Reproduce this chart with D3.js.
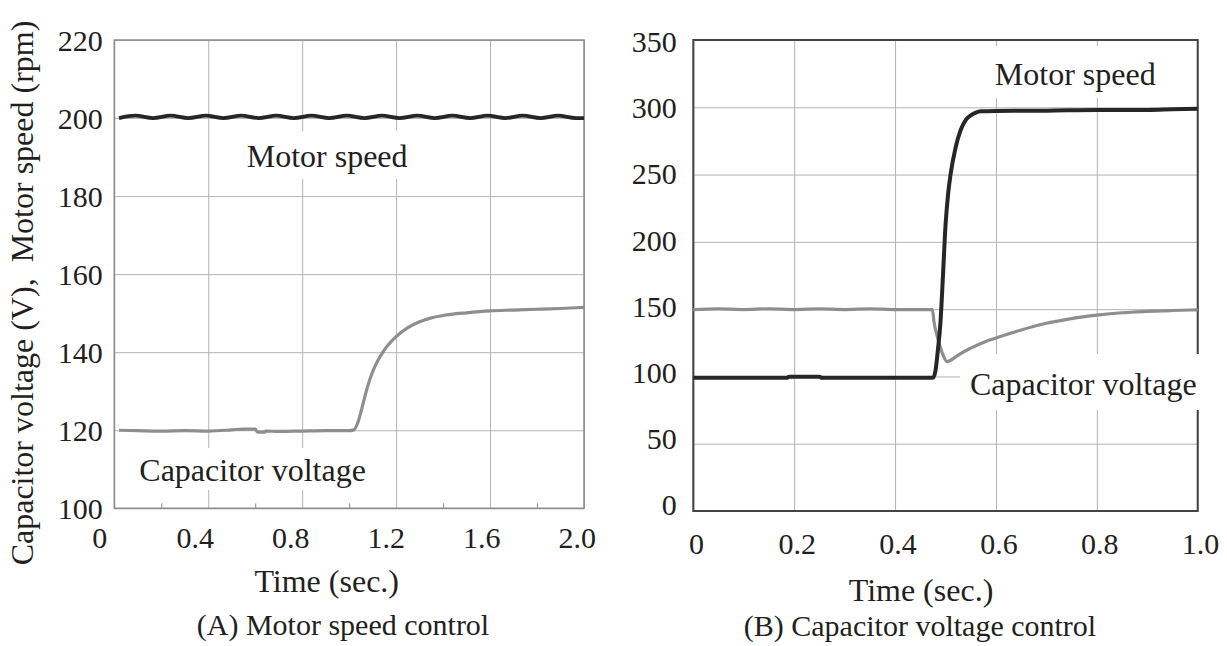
<!DOCTYPE html>
<html>
<head>
<meta charset="utf-8">
<script src="https://cdn.jsdelivr.net/npm/d3@7"></script>
<style>
  html, body { margin: 0; padding: 0; background: #fff; }
  svg { display: block; }
  svg text { font-family: "Liberation Serif", "Times New Roman", Times, "DejaVu Serif", serif; }
</style>
</head>
<body>
<svg id="chart" width="1227" height="646"></svg>
<script>
// ---------------- DATA ----------------
// Panel A: Motor speed control
const xTicksA = [0, 0.4, 0.8, 1.2, 1.6, 2.0];
const xTickLabelsA = ["0", "0.4", "0.8", "1.2", "1.6", "2.0"];
const xMinorA = [0.2, 0.6, 1.0, 1.4, 1.8];
const yTicksA = [100, 120, 140, 160, 180, 200, 220];
const yTickLabelsA = ["100", "120", "140", "160", "180", "200", "220"];

const tSpeedA = [0.02, 0.09, 0.165, 0.24, 0.315, 0.39, 0.465, 0.54, 0.615, 0.69, 0.765, 0.84, 0.915,
                 0.99, 1.065, 1.14, 1.215, 1.29, 1.365, 1.44, 1.515, 1.59, 1.665, 1.74, 1.815, 1.89, 1.965, 2.0];
const speedA  = [200.0, 200.6, 200.0, 200.6, 200.0, 200.6, 200.0, 200.6, 200.0, 200.6, 200.0, 200.6, 200.0,
                 200.6, 200.0, 200.6, 200.0, 200.6, 200.0, 200.6, 200.0, 200.6, 200.0, 200.6, 200.0, 200.6, 200.0, 200.0];

const tCapA = [0.02, 0.1, 0.2, 0.3, 0.4, 0.5, 0.55, 0.6, 0.61, 0.64, 0.645, 0.7, 0.8, 0.9, 1.0,
               1.02, 1.04, 1.06, 1.08, 1.1, 1.12, 1.15, 1.2, 1.25, 1.3, 1.35, 1.4, 1.5, 1.6, 1.7, 1.8, 1.9, 2.0];
const capA  = [120.0, 119.9, 119.8, 119.9, 119.8, 120.1, 120.3, 120.3, 119.5, 119.5, 119.8, 119.7, 119.8, 119.9, 119.9,
               120.1, 122.5, 127.0, 131.5, 135.0, 137.6, 140.6, 144.0, 146.3, 147.8, 148.8, 149.4, 150.1, 150.6, 150.8, 151.0, 151.2, 151.5];

// Panel B: Capacitor voltage control
const xTicksB = [0, 0.2, 0.4, 0.6, 0.8, 1.0];
const xTickLabelsB = ["0", "0.2", "0.4", "0.6", "0.8", "1.0"];
const yTicksB = [0, 50, 100, 150, 200, 250, 300, 350];
const yTickLabelsB = ["0", "50", "100", "150", "200", "250", "300", "350"];

const tSpeedB = [0, 0.1, 0.185, 0.19, 0.25, 0.255, 0.35, 0.475, 0.48, 0.485, 0.49, 0.495, 0.5, 0.505, 0.51,
                 0.52, 0.53, 0.54, 0.55, 0.56, 0.57, 0.6, 0.7, 0.8, 0.9, 0.95, 1.0];
const speedB  = [99, 99, 99, 99.8, 99.8, 99, 99, 99, 104, 120, 140, 175, 212, 235, 250,
                 270, 283, 290.5, 294, 296, 297, 297.3, 297.5, 298, 298, 298.5, 299];

const tCapB = [0, 0.05, 0.1, 0.15, 0.2, 0.25, 0.3, 0.35, 0.4, 0.45, 0.474, 0.477, 0.485, 0.495, 0.503, 0.51,
               0.52, 0.53, 0.55, 0.58, 0.6, 0.65, 0.7, 0.75, 0.8, 0.85, 0.9, 0.95, 1.0];
const capB  = [149.7, 150.2, 149.7, 150.2, 149.7, 150.2, 149.7, 150.2, 149.7, 149.7, 149.7, 141, 128, 116, 111, 112,
               114.5, 117, 121, 126, 128.5, 134.5, 139.5, 143, 145.5, 147.3, 148.3, 149, 149.5];

// ---------------- DRAW ----------------
const TXT = "#231f20";
const GRID = "#b4b4b4";
const SPEED_C = "#262626";
const CAP_C = "#8e8e8e";

const svg = d3.select("#chart");

// scales
const xA = d3.scaleLinear().domain([0, 2]).range([114.3, 584]);
const yA = d3.scaleLinear().domain([100, 220]).range([508.3, 40]);
const xLabA = d3.scaleLinear().domain([0, 2]).range([99.3, 576.7]);

const xB = d3.scaleLinear().domain([0, 1]).range([693.3, 1197.7]);
const yB = d3.scaleLinear().domain([0, 350]).range([511, 40]);
const xLabB = d3.scaleLinear().domain([0, 1]).range([696, 1200]);
const yLabB = d3.scaleLinear().domain([0, 350]).range([504, 41.7]);

function grid(x, y, xt, yt) {
  const g = svg.append("g");
  const [y0, y1] = y.range();
  const [x0, x1] = x.range();
  const gx = g.append("g").attr("transform", `translate(0,${y0})`)
    .call(d3.axisBottom(x).tickValues(xt).tickSize(-(y0 - y1)).tickFormat(""));
  gx.select(".domain").remove();
  gx.selectAll("line").attr("stroke", GRID).attr("stroke-width", 1);
  const gy = g.append("g").attr("transform", `translate(${x0},0)`)
    .call(d3.axisLeft(y).tickValues(yt).tickSize(-(x1 - x0)).tickFormat(""));
  gy.select(".domain").remove();
  gy.selectAll("line").attr("stroke", GRID).attr("stroke-width", 1);
  return g;
}

function styleAxis(a) {
  a.select(".domain").remove();
  a.attr("font-family", null).attr("font-size", 30).attr("color", TXT);
}

function xLabels(scale, ticks, labels, baseline) {
  const a = svg.append("g").attr("transform", `translate(0,${baseline})`)
    .call(d3.axisBottom(scale).tickValues(ticks).tickSize(0).tickFormat((d, i) => labels[i]));
  styleAxis(a);
  a.selectAll("text").attr("y", 0).attr("dy", null);
}

function yLabels(scale, ticks, labels, rightEdge) {
  const a = svg.append("g").attr("transform", `translate(${rightEdge},0)`)
    .call(d3.axisLeft(scale).tickValues(ticks).tickSize(0).tickPadding(0).tickFormat((d, i) => labels[i]));
  styleAxis(a);
  a.selectAll("text").attr("x", 0).attr("dy", "0.34em");
}

function border(x, y, color, w) {
  const [x0, x1] = x.range();
  const [y0, y1] = y.range();
  svg.append("rect").attr("x", x0).attr("y", y1).attr("width", x1 - x0).attr("height", y0 - y1)
    .attr("fill", "none").attr("stroke", color).attr("stroke-width", w);
}

function series(x, y, ts, vs, color, w, curve) {
  const line = d3.line().x((d, i) => x(ts[i])).y((d, i) => y(vs[i])).curve(curve);
  svg.append("path").attr("d", line(vs)).attr("fill", "none")
    .attr("stroke", color).attr("stroke-width", w).attr("stroke-linejoin", "round").attr("stroke-linecap", "butt");
}

function note(text, x, baseline, bx, by, bw, bh, size) {
  svg.append("rect").attr("x", bx).attr("y", by).attr("width", bw).attr("height", bh).attr("fill", "#fff");
  svg.append("text").attr("x", x).attr("y", baseline)
    .attr("font-size", size).attr("fill", TXT).text(text);
}

function label(text, x, baseline, size, rotate) {
  const t = svg.append("text").attr("font-size", size)
    .attr("fill", TXT).attr("text-anchor", "middle").style("white-space", "pre").text(text);
  if (rotate) t.attr("transform", `translate(${x},${baseline}) rotate(-90)`);
  else t.attr("x", x).attr("y", baseline);
}

// ----- Panel A -----
grid(xA, yA, xTicksA, yTicksA);
border(xA, yA, "#8a8a8a", 1.5);
const mt = svg.append("g").attr("transform", `translate(0,${yA.range()[0]})`)
  .call(d3.axisTop(xA).tickValues(xMinorA).tickSize(5).tickFormat(""));
mt.select(".domain").remove();
mt.selectAll("line").attr("stroke", "#8a8a8a").attr("stroke-width", 1);

note("Motor speed", 246.7, 166.7, 240, 131, 176, 48, 32);
note("Capacitor voltage", 139.3, 481, 134, 448, 238, 42, 32);
series(xA, yA, tSpeedA, speedA, SPEED_C, 3.8, d3.curveMonotoneX);
series(xA, yA, tCapA, capA, CAP_C, 3.2, d3.curveMonotoneX);

yLabels(yA, yTicksA, yTickLabelsA, 102.7);
xLabels(xLabA, xTicksA, xTickLabelsA, 548);
label("Time (sec.)", 326.7, 592, 32, false);
label("(A) Motor speed control", 343, 635, 30, false);
label("Capacitor voltage (V),  Motor speed (rpm)", 33, 293, 32, true);

// ----- Panel B -----
grid(xB, yB, xTicksB, yTicksB);
border(xB, yB, "#444", 2);
note("Motor speed", 994.8, 85, 985, 46, 180, 52, 32);
note("Capacitor voltage", 970, 395, 960, 354, 252, 56, 32);
series(xB, yB, tCapB, capB, CAP_C, 3.2, d3.curveMonotoneX);
series(xB, yB, tSpeedB, speedB, SPEED_C, 4, d3.curveMonotoneX);

yLabels(yLabB, yTicksB, yTickLabelsB, 676.7);
xLabels(xLabB, xTicksB, xTickLabelsB, 554);
label("Time (sec.)", 921, 601, 32, false);
label("(B) Capacitor voltage control", 920, 636, 30, false);
</script>
</body>
</html>
